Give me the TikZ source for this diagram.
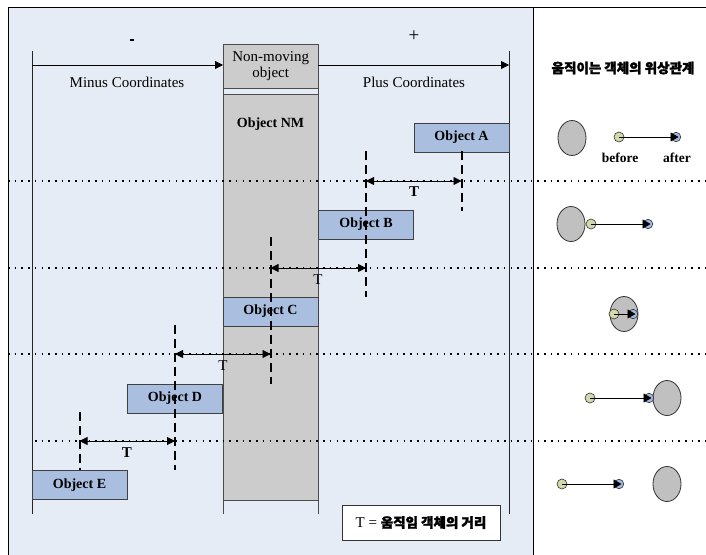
\documentclass[tikz,border=0pt]{standalone}
\usepackage{fontspec}
\setmainfont{Liberation Serif}
\newfontfamily\krfont{Noto Sans CJK KR}[BoldFeatures={FakeBold=2}]
\usetikzlibrary{arrows.meta,shapes.geometric}
\definecolor{bgblue}{HTML}{E6ECF6}
\definecolor{nmgray}{HTML}{CCCCCC}
\definecolor{objblue}{HTML}{AABFE0}
\definecolor{ellgray}{HTML}{C0C0C0}
\definecolor{olivedot}{HTML}{D5D8A8}
\definecolor{bluedot}{HTML}{9FB8E2}
\begin{document}
\begin{tikzpicture}[x=1pt,y=-1pt,
  obj/.style={draw=black!75, fill=objblue, line width=0.9pt, minimum width=95pt, minimum height=29pt, inner sep=0pt, font=\fontsize{14}{16}\selectfont\bfseries},
  dotline/.style={line width=1.6pt, dash pattern=on 1.6pt off 5.1pt},
  dashv/.style={line width=2pt, dash pattern=on 9pt off 5pt},
  tarrow/.style={line width=0.8pt, {Triangle[length=8pt,width=8pt]}-{Triangle[length=8pt,width=8pt]}},
  axarrow/.style={line width=0.8pt, -{Triangle[length=8pt,width=8pt]}},
  guide/.style={line width=0.8pt, black!85},
  tlab/.style={font=\fontsize{15}{17}\selectfont, inner sep=0pt},
  lab/.style={font=\fontsize{15}{17}\selectfont, inner sep=0pt},
  bigell/.style={ellipse, draw=black!80, fill=ellgray, minimum width=28pt, minimum height=35pt, inner sep=0pt, line width=0.8pt},
  odot/.style={circle, draw=black!80, fill=olivedot, minimum size=10pt, inner sep=0pt, line width=0.6pt},
  bdot/.style={circle, draw=black!80, fill=bluedot, minimum size=9.5pt, inner sep=0pt, line width=0.6pt},
  sarrow/.style={line width=0.7pt, -{Triangle[length=8pt,width=9pt]}},
  kr/.style={font=\krfont\bfseries\fontsize{13.5}{15}\selectfont, inner sep=0pt}
]
\useasboundingbox (0,0) rectangle (706,554);
\clip (0,0) rectangle (706,554);
% panels
\fill[white] (0,0) rectangle (706,554);
\draw[line width=0.8pt, fill=bgblue] (8,7) rectangle (533,560);
\draw[line width=0.8pt] (533,7) -- (706,7);
% non-moving object column
\node[draw=black!70, fill=nmgray, minimum width=95pt, minimum height=44pt, inner sep=0pt, anchor=north west, align=center, font=\fontsize{15}{15.5}\selectfont] (nmo) at (223,44) {Non-moving\\object};
\node[draw=black!70, fill=nmgray, minimum width=95pt, minimum height=406pt, inner sep=0pt, anchor=north west] (nm) at (223,94) {};
\node[font=\fontsize{14}{16}\selectfont\bfseries, inner sep=0pt] (nmlab) at (270.5,124) {Object NM};
\draw[guide, black!70] (nm.south west) -- ++(0,14);
\draw[guide, black!70] (nm.south east) -- ++(0,14);
\draw[guide, black!70] (nmo.south west) -- (nm.north west);
\draw[guide, black!70] (nmo.south east) -- (nm.north east);
% axes
\coordinate (axl) at (32,65);
\coordinate (axr) at (509,65);
\draw[guide] (32,51) -- (32,514);
\draw[guide] (509,51) -- (509,514);
\draw[axarrow] (axl) -- (nmo.west |- axl);
\draw[axarrow] (nmo.east |- axr) -- (axr);
\node[fill=black, minimum width=4pt, minimum height=2.2pt, inner sep=0pt] (minus) at (132,40) {};
\node[font=\fontsize{19}{20}\selectfont, inner sep=0pt] (plus) at (414,36) {+};
\node[lab] (minuslab) at (127,82) {Minus Coordinates};
\node[lab] (pluslab) at (414,82) {Plus Coordinates};
% dotted separators
\draw[dotline] (8,181) -- (706,181);
\draw[dotline] (8,268) -- (706,268);
\draw[dotline] (8,354) -- (706,354);
\draw[dotline] (35,441) -- (706,441);
% objects
\node[obj] (A) at (461.5,137.5) {Object A};
\node[obj] (B) at (366,224.5) {Object B};
\node[obj] (C) at (270.5,311.5) {Object C};
\node[obj] (D) at (175,398.5) {Object D};
\node[obj] (E) at (79.5,485) {Object E};
% dashed verticals
\coordinate (vA1) at (461.5,151);
\coordinate (vA2) at (461.5,211);
\coordinate (vB1) at (366,151);
\coordinate (vB2) at (366,297);
\coordinate (vC1) at (270.5,237);
\coordinate (vC2) at (270.5,384);
\coordinate (vD1) at (175,325);
\coordinate (vD2) at (175,470);
\coordinate (vE1) at (79.5,412);
\coordinate (vE2) at (79.5,470);
\draw[dashv] (vA1) -- (vA2);
\draw[dashv] (vB1) -- (vB2);
\draw[dashv] (vC1) -- (vC2);
\draw[dashv] (vD1) -- (vD2);
\draw[dashv] (vE1) -- (vE2);
% T arrows
\coordinate (t1l) at (366,181); \coordinate (t1r) at (461.5,181);
\coordinate (t2l) at (270.5,268); \coordinate (t2r) at (366,268);
\coordinate (t3l) at (175,354); \coordinate (t3r) at (270.5,354);
\coordinate (t4l) at (79.5,441); \coordinate (t4r) at (175,441);
\draw[tarrow] (t1l) -- (t1r);
\draw[tarrow] (t2l) -- (t2r);
\draw[tarrow] (t3l) -- (t3r);
\draw[tarrow] (t4l) -- (t4r);
\node[tlab, font=\fontsize{15}{17}\selectfont\bfseries] (T1) at (414,192) {T};
\node[tlab] (T2) at (318,280) {T};
\node[tlab] (T3) at (223,366) {T};
\node[tlab, font=\fontsize{15}{17}\selectfont\bfseries] (T4) at (127,453) {T};
% legend
\node[draw=black!80, fill=white, line width=0.8pt, minimum width=158pt, minimum height=35pt, inner sep=0pt] (legend) at (421,522.5) {{\fontsize{15}{17}\selectfont T = }{\krfont\bfseries\fontsize{13.5}{15}\selectfont 움직임 객체의 거리}};
% right panel
\node[kr] (title) at (623,68) {움직이는 객체의 위상관계};
% row 1
\node[bigell] (e1) at (572,138) {};
\node[bdot] (a1) at (676,137) {};
\node[odot] (b1) at (619,137) {};
\draw[sarrow] (b1.center) -- ([xshift=2.5pt]a1.center);
\node[font=\fontsize{13.5}{15}\selectfont\bfseries, inner sep=0pt] (before) at (620,158) {before};
\node[font=\fontsize{13.5}{15}\selectfont\bfseries, inner sep=0pt] (after) at (677,158) {after};
% row 2
\node[bigell] (e2) at (571,224) {};
\node[bdot] (a2) at (648,224) {};
\node[odot] (b2) at (591,224) {};
\draw[sarrow] (b2.center) -- ([xshift=2.5pt]a2.center);
% row 3
\node[bigell] (e3) at (624,314) {};
\node[bdot] (a3) at (633,314) {};
\node[odot] (b3) at (614,314) {};
\draw[sarrow] (b3.center) -- ([xshift=2.5pt]a3.center);
% row 4
\node[bigell] (e4) at (667,398) {};
\node[bdot] (a4) at (649,398) {};
\node[odot] (b4) at (590,398) {};
\draw[sarrow] (b4.center) -- ([xshift=2.5pt]a4.center);
% row 5
\node[bigell] (e5) at (667,484) {};
\node[bdot] (a5) at (619,484) {};
\node[odot] (b5) at (562,484) {};
\draw[sarrow] (b5.center) -- ([xshift=2.5pt]a5.center);
\end{tikzpicture}
\end{document}
